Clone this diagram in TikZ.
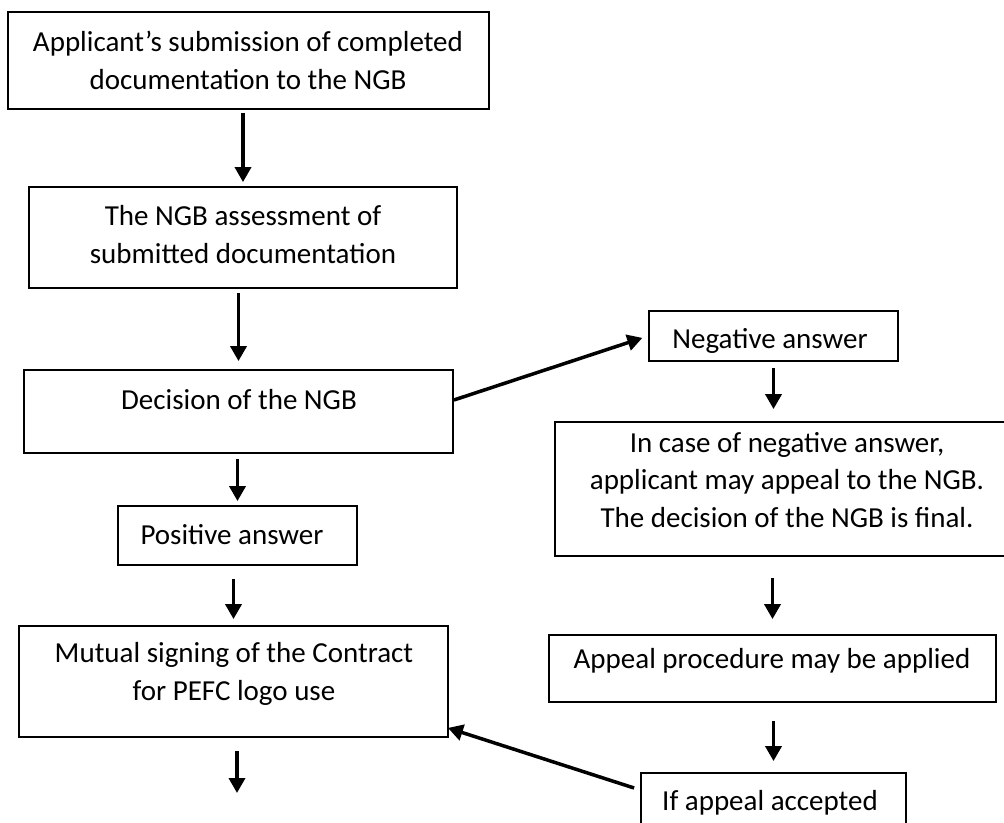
\documentclass[tikz,border=0pt]{standalone}
\usepackage{fontspec}
\setmainfont{Carlito}
\usetikzlibrary{arrows.meta,calc}
\begin{document}
\begin{tikzpicture}[x=1pt,y=-1pt,
  box/.style={draw=black, line width=1.8pt, rectangle, inner sep=0pt},
  lbl/.style={font=\fontsize{29}{37.5}\selectfont, align=center, anchor=base, inner sep=0pt},
  arr/.style={line width=3.5pt, -{Triangle[length=15pt,width=16pt]}}]
\useasboundingbox (0,0) rectangle (1004,822);
% boxes
\node[box, minimum width=481pt, minimum height=97pt]  (b1) at (248.5,60.5) {};
\node[box, minimum width=428pt, minimum height=101pt] (b2) at (243,237.5) {};
\node[box, minimum width=429pt, minimum height=83pt]  (b3) at (238.5,411.5) {};
\node[box, minimum width=239pt, minimum height=59pt]  (b4) at (237.5,535.5) {};
\node[box, minimum width=429pt, minimum height=111pt] (b5) at (233.5,681.5) {};
\node[box, minimum width=249pt, minimum height=50pt]  (b6) at (773.5,336) {};
\node[box, minimum width=457pt, minimum height=134pt] (b7) at (783.5,489) {};
\node[box, minimum width=447pt, minimum height=67pt]  (b8) at (772.5,668.5) {};
\node[box, minimum width=265pt, minimum height=59pt]  (b9) at (773.5,802.5) {};
% texts (base anchor = baseline of last line)
\node[lbl] (t1) at (248,89) {Applicant’s submission of completed\\documentation to the NGB};
\node[lbl] (t2) at (243,263) {The NGB assessment of\\submitted documentation};
\node[lbl] (t3) at (239,409) {Decision of the NGB};
\node[lbl] (t4) at (232,544) {Positive answer};
\node[lbl] (t5) at (234,700) {Mutual signing of the Contract\\for PEFC logo use};
\node[lbl] (t6) at (770,348) {Negative answer};
\node[lbl] (t7) at (787,527) {In case of negative answer,\\applicant may appeal to the NGB.\\The decision of the NGB is final.};
\node[lbl] (t8) at (772,668) {Appeal procedure may be applied};
\node[lbl] (t9) at (770,810) {If appeal accepted};
% arrows
\draw[arr, shorten <=3pt, shorten >=4pt] (b1.south -| b2.north) -- (b2.north);
\draw[arr, shorten <=4pt, shorten >=8pt] (b2.south -| b3.north) -- (b3.north);
\draw[arr, shorten <=5pt, shorten >=4pt] (b3.south -| b4.north) -- (b4.north);
\draw[arr, shorten <=13pt, shorten >=6pt] (b4.south -| b5.north) -- (b5.north);
\coordinate (e5) at (237,793);
\draw[arr, shorten <=13pt] (b5.south -| e5) -- (e5);
\draw[arr, shorten >=6pt] ($(b3.east)+(0,-11.5)$) -- (b6.west);
\draw[arr, shorten <=6pt, shorten >=12pt] (b6.south) -- (b6.south |- b7.north);
\draw[arr, shorten <=21pt, shorten >=15pt] (b7.south -| b8.north) -- (b8.north);
\draw[arr, shorten <=18pt, shorten >=11pt] (b8.south -| b9.north) -- (b9.north);
\draw[arr] ($(b9.west)+(-6,-14.5)$) -- ($(b5.south east)+(-1,-10)$);
\end{tikzpicture}
\end{document}
